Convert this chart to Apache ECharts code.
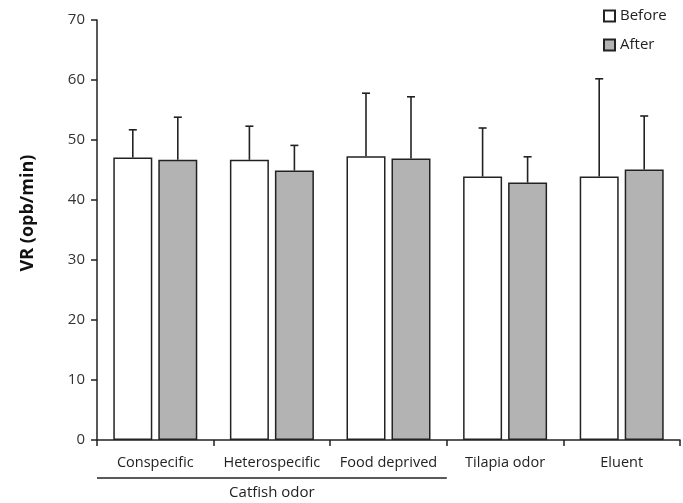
<!DOCTYPE html>
<html>
<head>
<meta charset="utf-8">
<script src="https://cdn.jsdelivr.net/npm/echarts@6/dist/echarts.min.js"></script>
<style>
html,body{margin:0;padding:0;background:#fff;}
#chart{width:683px;height:503px;}
</style>
</head>
<body>
<div id="chart"></div>
<script>
var categories = ['Conspecific', 'Heterospecific', 'Food deprived', 'Tilapia odor', 'Eluent'];
var beforeMean = [47.1, 46.7, 47.3, 43.9, 43.9];
var beforeSD = [4.6, 5.6, 10.5, 8.1, 16.3];
var afterMean = [46.7, 44.9, 46.9, 42.9, 45.1];
var afterSD = [7.1, 4.2, 10.3, 4.3, 8.9];
var yTicks = [0, 10, 20, 30, 40, 50, 60, 70];
var groupLabel = 'Catfish odor';
var groupCount = 3;

var FONT = '"Open Sans", sans-serif';
var BAR_W = 39;
var GAP = 6;

function errSeries(name, means, sds, side) {
  return {
    type: 'custom',
    name: name + ' err',
    z: 5,
    silent: true,
    data: means.map(function (m, i) { return [i, m, m + sds[i]]; }),
    renderItem: function (params, api) {
      var i = api.value(0);
      var p0 = api.coord([i, api.value(1)]);
      var p1 = api.coord([i, api.value(2)]);
      var x = p0[0] + side * (BAR_W + GAP) / 2;
      var cap = 4;
      var st = { stroke: '#222', lineWidth: 1.6 };
      return {
        type: 'group',
        children: [
          { type: 'line', shape: { x1: x, y1: p0[1], x2: x, y2: p1[1] }, style: st },
          { type: 'line', shape: { x1: x - cap, y1: p1[1], x2: x + cap, y2: p1[1] }, style: st }
        ]
      };
    }
  };
}

var chart = echarts.init(document.getElementById('chart'));
var option = {
  animation: false,
  backgroundColor: '#fff',
  grid: { left: 97, right: 3, top: 20, bottom: 63 },
  legend: {
    orient: 'vertical',
    left: 603,
    top: 6,
    padding: 0,
    itemWidth: 11,
    itemHeight: 11,
    itemGap: 9,
    icon: 'rect',
    data: ['Before', 'After'],
    textStyle: { fontFamily: FONT, fontSize: 15, color: '#222', lineHeight: 20 }
  },
  xAxis: {
    type: 'category',
    data: categories,
    axisLine: { lineStyle: { color: '#222', width: 1.5 } },
    axisTick: { show: true, interval: 0, alignWithLabel: false, length: 6, lineStyle: { color: '#222', width: 1.5 } },
    axisLabel: { interval: 0, hideOverlap: false, fontFamily: FONT, fontSize: 14.5, color: '#222', margin: 15 }
  },
  yAxis: {
    type: 'value',
    min: yTicks[0],
    max: yTicks[yTicks.length - 1],
    interval: yTicks[1] - yTicks[0],
    name: 'VR (opb/min)',
    nameLocation: 'middle',
    nameGap: 60,
    nameTextStyle: { fontFamily: FONT, fontSize: 18, fontWeight: 'bold', color: '#111', padding: [0, 0, 0, 34] },
    splitLine: { show: false },
    axisLine: { show: true, lineStyle: { color: '#222', width: 1.5 } },
    axisTick: { show: true, length: 6, lineStyle: { color: '#222', width: 1.5 } },
    axisLabel: { fontFamily: FONT, fontSize: 15, color: '#333', margin: 12 }
  },
  series: [
    {
      name: 'Before', type: 'bar', data: beforeMean, barWidth: BAR_W, barGap: (GAP / BAR_W * 100) + '%',
      itemStyle: { color: '#ffffff', borderColor: '#222', borderWidth: 1.5 }
    },
    {
      name: 'After', type: 'bar', data: afterMean, barWidth: BAR_W,
      itemStyle: { color: '#b3b3b3', borderColor: '#222', borderWidth: 1.5 }
    },
    errSeries('Before', beforeMean, beforeSD, -1),
    errSeries('After', afterMean, afterSD, 1)
  ]
};
chart.setOption(option);

// Group bracket under the first categories
var pStart = chart.convertToPixel({ gridIndex: 0 }, [0, 0]);
var pEnd = chart.convertToPixel({ gridIndex: 0 }, [groupCount - 1, 0]);
var half = (chart.convertToPixel({ gridIndex: 0 }, [1, 0])[0] - pStart[0]) / 2;
var x1 = pStart[0] - half, x2 = pEnd[0] + half;
chart.setOption({
  graphic: [
    { type: 'line', shape: { x1: x1, y1: pStart[1] + 38, x2: x2, y2: pStart[1] + 38 }, style: { stroke: '#222', lineWidth: 1.5 } },
    { type: 'text', x: (x1 + x2) / 2, y: pStart[1] + 53, style: { text: groupLabel, font: '15px ' + FONT, fill: '#222', textAlign: 'center', textVerticalAlign: 'middle' } }
  ]
});
</script>
</body>
</html>
